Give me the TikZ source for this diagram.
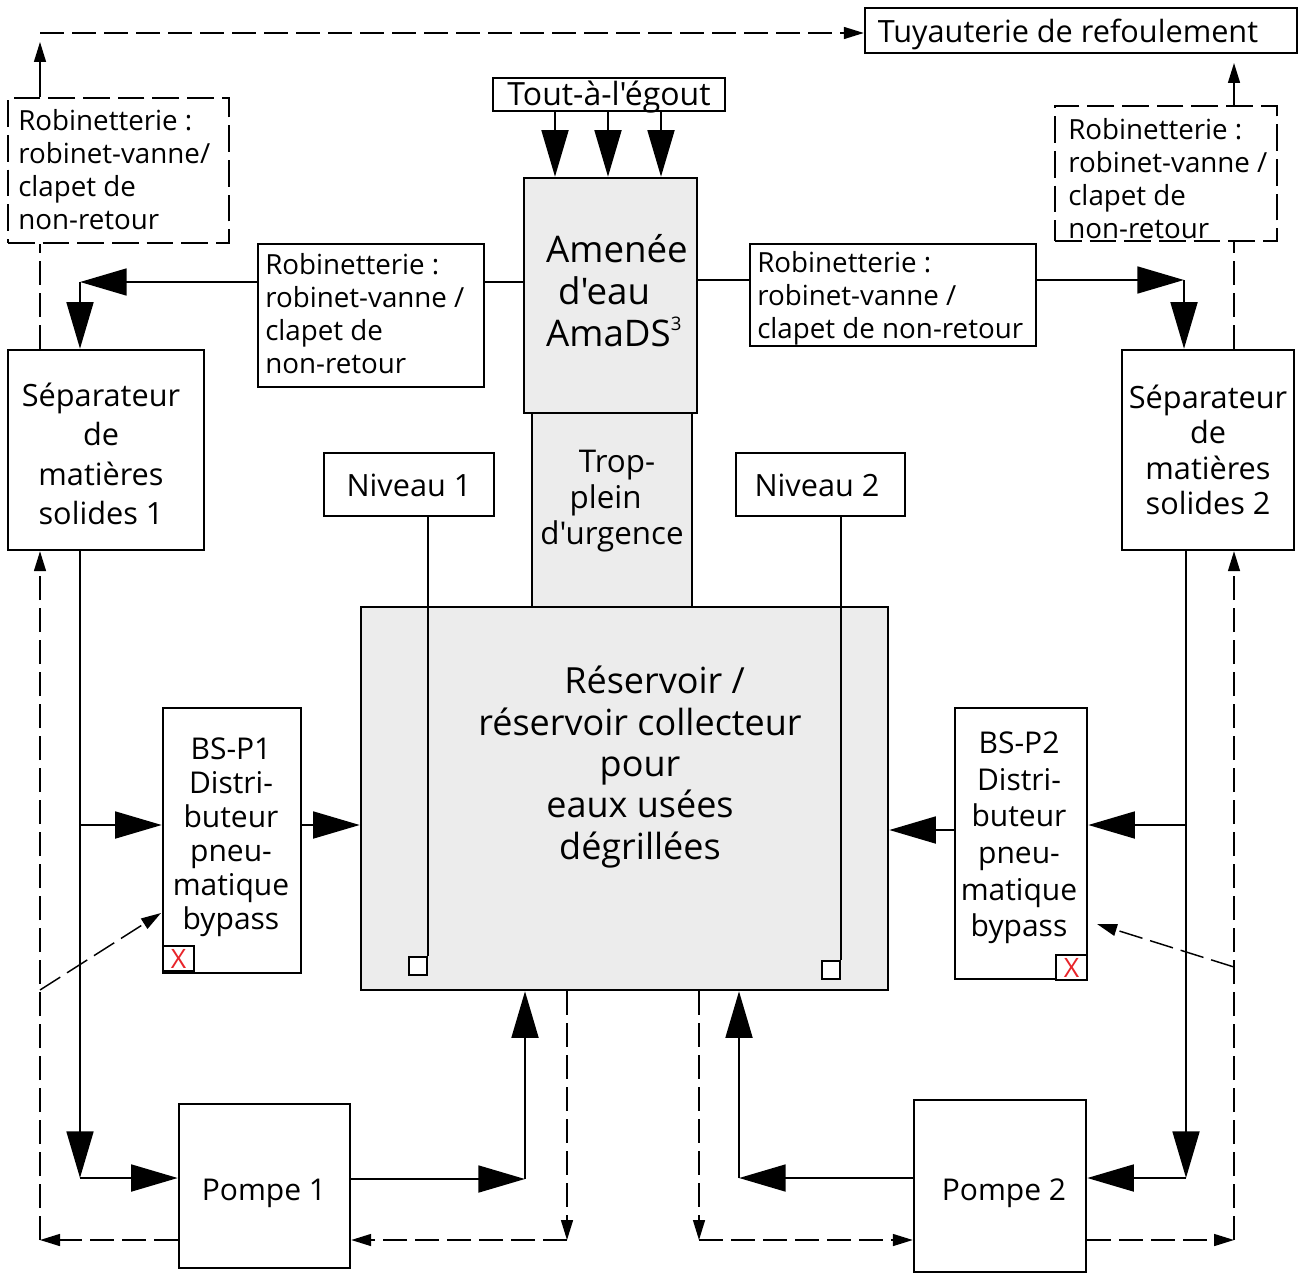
\documentclass[tikz,border=0pt]{standalone}
\usepackage{fontspec}
\setmainfont{Open Sans}[Ligatures=TeXOff]
\usetikzlibrary{arrows.meta,fit,calc}
\definecolor{boxgray}{HTML}{ECECEC}
\definecolor{xred}{HTML}{E8242A}
\begin{document}
\begin{tikzpicture}[x=0.75pt,y=-0.75pt,
 box/.style={draw, line width=1.8pt, inner sep=0pt},
 gbox/.style={box, fill=boxgray},
 dbox/.style={draw, line width=1.6pt, inner sep=0pt, dash pattern=on 20pt off 6pt},
 txt/.style={inner sep=0pt, font=\fontsize{22.5}{26}\selectfont, align=center},
 rtxt/.style={inner sep=0pt, font=\fontsize{20.8}{24.75}\selectfont, align=left, anchor=west},
 flow/.style={line width=2.2pt, -{Triangle[length=35pt,width=20pt]}},
 pipe/.style={line width=2.2pt},
 dl/.style={line width=1.1pt, dash pattern=on 18pt off 6pt, -{Triangle[length=15pt,width=9pt]}},
 dsh/.style={line width=1.1pt, dash pattern=on 18pt off 6pt},
 sensor/.style={line width=1.6pt},
 sq/.style={draw, line width=1.5pt, fill=white, minimum size=13pt, inner sep=0pt},
 xbox/.style={draw, line width=1.5pt, fill=white, minimum width=23pt, minimum height=19pt, inner sep=0pt, text=xred, font=\fontsize{20}{20}\selectfont},
]
\useasboundingbox (0,0) rectangle (1301,1273);

% ---- boxes ----
\node[box, fit={(865,8) (1297,53)}] (tuy) {};
\node[txt, font=\fontsize{23}{26}\selectfont] (tuyt) at (1068,34) {Tuyauterie de refoulement};

\node[box, fit={(493,78) (725,111)}] (tout) {};
\node[txt, font=\fontsize{24}{26}\selectfont] (toutt) at (609,97) {Tout-à-l'égout};

\node[gbox, fit={(524,178) (697,413)}] (amenee) {};
\node[inner sep=0pt, align=left, font=\fontsize{27.5}{31.5}\selectfont] (amenect) at (617,291) {Amenée\\\hspace*{9pt}d'eau\\AmaDS\raisebox{12pt}{\fontsize{14}{14}\selectfont 3}};

\node[gbox, fit={(532,413) (692,608)}] (trop) {};
\node[inner sep=0pt, align=left, font=\fontsize{23.5}{27}\selectfont] (tropt) at (612,501) {\hspace*{29pt}Trop-\\\hspace*{22pt}plein\\d'urgence};

\node[gbox, fit={(361,607) (888,990)}] (res) {};
\node[txt, font=\fontsize{27}{31}\selectfont] (rest) at (640,767) {\hspace*{22pt}Réservoir /\\réservoir collecteur\\pour\\eaux usées\\dégrillées};

\node[box, fit={(324,453) (494,516)}] (niv1) {};
\node[txt, font=\fontsize{23}{26}\selectfont] (niv1t) at (409,485) {Niveau 1};
\node[box, fit={(736,453) (905,516)}] (niv2) {};
\node[txt, font=\fontsize{23}{26}\selectfont] (niv2t) at (817,485) {Niveau 2};

\node[dbox, fit={(8,98) (229,243)}] (dbL) {};
\node[rtxt] (dbLt) at (18,170) {Robinetterie :\\robinet-vanne/\\clapet de\\non-retour};
\node[box, fit={(258,244) (484,387)}] (robL) {};
\node[rtxt] (robLt) at (265,314) {Robinetterie :\\robinet-vanne /\\clapet de\\non-retour};
\node[box, fit={(750,244) (1036,346)}] (robR) {};
\node[rtxt] (robRt) at (757,298) {Robinetterie :\\robinet-vanne /\\clapet de non-retour};
\node[dbox, fit={(1055,106) (1277,241)}] (dbR) {};
\node[rtxt] (dbRt) at (1068,179) {Robinetterie :\\robinet-vanne /\\clapet de\\non-retour};

\node[box, fit={(8,350) (204,550)}] (sep1) {};
\node[txt, font=\fontsize{23}{29.5}\selectfont] (sep1t) at (101,454) {Séparateur\\de\\matières\\solides 1};
\node[box, fit={(1122,350) (1294,550)}] (sep2) {};
\node[txt, font=\fontsize{23}{26.5}\selectfont] (sep2t) at (1208,450) {Séparateur\\de\\matières\\solides 2};

\node[box, fit={(163,708) (301,973)}] (bsp1) {};
\node[txt, font=\fontsize{22.5}{25.5}\selectfont] (bsp1t) at (231,837) {BS-P1\\Distri-\\buteur\\pneu-\\matique\\bypass};
\node[xbox] (x1) at (178.5,958.5) {X};
\node[box, fit={(955,708) (1087,979)}] (bsp2) {};
\node[txt, font=\fontsize{22.5}{27.5}\selectfont] (bsp2t) at (1019,838) {BS-P2\\Distri-\\buteur\\pneu-\\matique\\bypass};
\node[xbox] (x2) at (1071.5,967.5) {X};

\node[box, fit={(179,1104) (350,1268)}] (pompe1) {};
\node[txt] (pompe1t) at (264,1193) {Pompe 1};
\node[box, fit={(914,1100) (1086,1272)}] (pompe2) {};
\node[txt] (pompe2t) at (1004,1193) {Pompe 2};

% ---- level sensors ----
\node[sq] (s1) at (418,966) {};
\node[sq] (s2) at (831,970) {};
\draw[sensor] (s1.north east |- niv1.south) -- (s1.north east);
\draw[sensor] (s2.north east |- niv2.south) -- (s2.north east);

% ---- solid flows ----
\foreach \xx in {555,608,661} \draw[flow] (\xx,0 |- tout.south) -- (\xx,0 |- amenee.north);

\coordinate (cL) at (80,282);
\draw[pipe] (amenee.west |- cL) -- (robL.east |- cL);
\draw[flow] (robL.west |- cL) -- (cL);
\draw[flow] (cL) -- (cL |- sep1.north);

\coordinate (cR) at (1184,280);
\draw[pipe] (amenee.east |- cR) -- (robR.west |- cR);
\draw[flow] (robR.east |- cR) -- (cR);
\draw[flow] (cR) -- (cR |- sep2.north);

\coordinate (bL) at (80,1178);
\coordinate (kL) at (80,825);
\draw[flow] (sep1.south -| bL) -- (bL);
\draw[flow] (kL) -- (kL -| bsp1.west);
\draw[flow] (bL) -- (bL -| pompe1.west);
\draw[flow] (bsp1.east |- kL) -- (res.west |- kL);

\coordinate (pL) at (525,1179);
\draw[flow] (pompe1.east |- pL) -- (pL);
\draw[flow] (pL) -- (pL |- res.south);

\coordinate (bR) at (1186,1178);
\coordinate (kR) at (1186,825);
\draw[flow] (sep2.south -| bR) -- (bR);
\draw[flow] (kR) -- (kR -| bsp2.east);
\draw[flow] (bR) -- (bR -| pompe2.east);
\coordinate (kR2) at (920,830);
\draw[flow] (bsp2.west |- kR2) -- (res.east |- kR2);

\coordinate (pR) at (739,1178);
\draw[flow] (pompe2.west |- pR) -- (pR);
\draw[flow] (pR) -- (pR |- res.south);

% ---- dashed lines ----
\coordinate (upL) at (40,42);
\coordinate (tl) at (40,33);
\draw[line width=1.1pt, -{Triangle[length=15pt,width=9pt]}] (upL |- dbL.north) -- (upL);
\draw[dl] (tl) -- (tl -| tuy.west);
\coordinate (upR) at (1234,63);
\draw[dl] (upR |- dbR.north) -- (upR);

\coordinate (dL) at (40,1240);
\draw[dsh] (dL |- sep1.north) -- (dL |- dbL.south);
\draw[dl] (pompe1.west |- dL) -- (dL);
\draw[dl] (dL) -- (dL |- sep1.south);
\coordinate (gL) at (40,990);
\coordinate (hL) at (161,913);
\draw[dl] (gL) -- (hL);

\coordinate (mL) at (567,1240);
\draw[dl] (mL |- res.south) -- (mL);
\draw[dl] (mL) -- (mL -| pompe1.east);
\coordinate (mR) at (699,1240);
\draw[dl] (mR |- res.south) -- (mR);
\draw[dl] (mR) -- (mR -| pompe2.west);

\coordinate (dR) at (1234,1240);
\draw[dl] (pompe2.east |- dR) -- (dR);
\draw[dl] (dR) -- (dR |- sep2.south);
\draw[dsh] (dR |- sep2.north) -- (dR |- dbR.south);
\coordinate (gR) at (1234,967);
\coordinate (hR) at (1097,924);
\draw[dl] (gR) -- (hR);
\end{tikzpicture}
\end{document}
